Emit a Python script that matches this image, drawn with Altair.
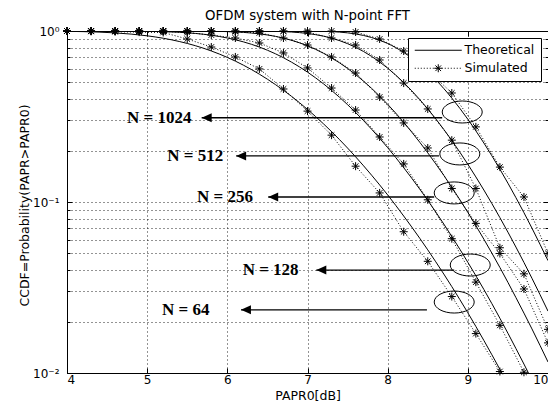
import altair as alt
import pandas as pd

# ---------------- data ----------------
N_values = [64, 128, 256, 512, 1024]

x_theory = [4.0, 4.2, 4.4, 4.6, 4.8, 5.0, 5.2, 5.4, 5.6, 5.8, 6.0, 6.2, 6.4, 6.6, 6.8,
            7.0, 7.2, 7.4, 7.6, 7.8, 8.0, 8.2, 8.4, 8.6, 8.8, 9.0, 9.2, 9.4, 9.6, 9.8, 10.0]

theory_64 = [0.9955, 0.9917, 0.9852, 0.9748, 0.9593, 0.9372, 0.9073, 0.8685, 0.8208, 0.7643,
             0.7006, 0.6314, 0.5590, 0.4861, 0.4151, 0.3478, 0.2863, 0.2315, 0.1838, 0.1434,
             0.1100, 0.0828, 0.0614, 0.0447, 0.0320, 0.0225, 0.0155, 0.0105, 0.0070, 0.00455, 0.0029]
theory_128 = [1.0, 0.9999, 0.9998, 0.9994, 0.9984, 0.9961, 0.9914, 0.9827, 0.9679, 0.9444,
              0.9104, 0.8641, 0.8055, 0.7359, 0.6579, 0.5747, 0.4907, 0.4094, 0.3339, 0.2663,
              0.2079, 0.1588, 0.1190, 0.0874, 0.0629, 0.0444, 0.0308, 0.0209, 0.0139, 0.0091, 0.0058]
theory_256 = [1.0, 1.0, 1.0, 1.0, 1.0, 1.0, 0.9999, 0.9997, 0.9990, 0.9969,
              0.9920, 0.9815, 0.9622, 0.9303, 0.8830, 0.8192, 0.7406, 0.6512, 0.5562, 0.4617,
              0.3726, 0.2924, 0.2237, 0.1671, 0.1219, 0.0869, 0.0606, 0.0414, 0.0276, 0.0181, 0.0116]
theory_512 = [1.0, 1.0, 1.0, 1.0, 1.0, 1.0, 1.0, 1.0, 1.0, 1.0,
              0.9999, 0.9997, 0.9986, 0.9951, 0.9863, 0.9673, 0.9328, 0.8783, 0.8031, 0.7102,
              0.6064, 0.4993, 0.3974, 0.3063, 0.2289, 0.1662, 0.1175, 0.0810, 0.0545, 0.0358, 0.0230]
theory_1024 = [1.0, 1.0, 1.0, 1.0, 1.0, 1.0, 1.0, 1.0, 1.0, 1.0,
               1.0, 1.0, 1.0, 1.0, 0.9998, 0.9989, 0.9955, 0.9852, 0.9612, 0.9160,
               0.8451, 0.7493, 0.6370, 0.5188, 0.4054, 0.3048, 0.2213, 0.1555, 0.1060, 0.0703, 0.0454]

x_sim = [4.0, 4.3, 4.6, 4.9, 5.2, 5.5, 5.8, 6.1, 6.4, 6.7, 7.0,
         7.3, 7.6, 7.9, 8.2, 8.5, 8.8, 9.1, 9.4, 9.7, 10.0]

sim_64 = [1.0, 0.995, 0.99, 0.985, 0.98, 0.898, 0.806, 0.705, 0.60, 0.458, 0.34,
          0.246, 0.162, 0.113, 0.067, 0.045, 0.028, 0.017, 0.0102, 0.0055, 0.003]
sim_128 = [1.0, 1.0, 1.0, 1.0, 0.995, 0.98, 0.947, 0.91, 0.851, 0.744, 0.608,
           0.464, 0.345, 0.24, 0.167, 0.103, 0.061, 0.034, 0.019, 0.0101, 0.005]
sim_256 = [1.0, 1.0, 1.0, 1.0, 1.0, 1.0, 0.998, 0.99, 0.975, 0.91, 0.828,
           0.705, 0.568, 0.411, 0.29, 0.207, 0.12, 0.075, 0.05, 0.031, 0.015]
sim_512 = [1.0, 1.0, 1.0, 1.0, 1.0, 1.0, 1.0, 1.0, 1.0, 0.998, 0.985,
           0.91, 0.828, 0.677, 0.496, 0.35, 0.23, 0.12, 0.054, 0.038, 0.018]
sim_1024 = [1.0, 1.0, 1.0, 1.0, 1.0, 1.0, 1.0, 1.0, 1.0, 1.0, 1.0,
            1.0, 0.987, 0.898, 0.764, 0.59, 0.434, 0.275, 0.16, 0.107, 0.05]

# annotations (data coordinates)
ann_label = ["N = 1024", "N = 512", "N = 256", "N = 128", "N = 64"]
ann_text_x = [5.15, 5.60, 5.97, 6.54, 5.48]
ann_y = [0.311, 0.186, 0.107, 0.0400, 0.0234]
ann_tip_x = [5.68, 6.11, 6.51, 7.11, 6.17]
ann_end_x = [8.68, 8.64, 8.58, 8.83, 8.49]
ell_x = [8.93, 8.90, 8.83, 9.03, 8.83]
ell_y = [0.336, 0.191, 0.113, 0.0428, 0.026]

legend_items = ["Theoretical", "Simulated"]
x_ticks = [4, 5, 6, 7, 8, 9, 10]
y_major = [0.01, 0.1, 1.0]
y_ticks = [0.01, 0.02, 0.03, 0.04, 0.05, 0.06, 0.07, 0.08, 0.09,
           0.1, 0.2, 0.3, 0.4, 0.5, 0.6, 0.7, 0.8, 0.9, 1.0]

# ---------------- tables ----------------
theory_lists = [theory_64, theory_128, theory_256, theory_512, theory_1024]
sim_lists = [sim_64, sim_128, sim_256, sim_512, sim_1024]
theory_df = pd.DataFrame([{"x": x, "p": p, "N": n}
                          for n, vals in zip(N_values, theory_lists)
                          for x, p in zip(x_theory, vals)])
sim_df = pd.DataFrame([{"x": x, "p": p, "N": n}
                       for n, vals in zip(N_values, sim_lists)
                       for x, p in zip(x_sim, vals)])
ann_df = pd.DataFrame({"label": ann_label, "tx": ann_text_x, "ay": ann_y,
                       "tip": ann_tip_x, "end": ann_end_x, "ex": ell_x, "ey": ell_y})
leg_df = pd.DataFrame({"kind": legend_items, "x": [4.0, 4.0], "p": [1.0, 1.0]})
anchor_df = pd.DataFrame({"x": [4.0], "p": [1.0]})

# ---------------- styling ----------------
W, H = 481, 342
FONT = "DejaVu Sans"
STAR = "M -1 0 L 1 0 M 0 -1 L 0 1 M -0.7 -0.7 L 0.7 0.7 M -0.7 0.7 L 0.7 -0.7"
ARROW = "M 0 0 L 2 -0.9 L 2 0.9 Z"
ELLIPSE = ("M -1 0 C -1 -0.3038 -0.5523 -0.55 0 -0.55 C 0.5523 -0.55 1 -0.3038 1 0 "
           "C 1 0.3038 0.5523 0.55 0 0.55 C -0.5523 0.55 -1 0.3038 -1 0 Z")
# legend symbols (unit = 5 px, symbol centre 5.5 px from the column start)
LEG_LINE = "M -1.1 0 L 8.3 0"
segs = []
t = -1.1
while t < 8.2:
    segs.append(f"M {t:.2f} 0 L {t + 0.2:.2f} 0")
    t += 0.6
LEG_SIM = " ".join(segs) + (" M 2.8 0 L 4.4 0 M 3.6 -0.8 L 3.6 0.8"
                            " M 3.04 -0.56 L 4.16 0.56 M 3.04 0.56 L 4.16 -0.56")

xscale = alt.Scale(domain=[4, 10], nice=False, zero=False)
yscale = alt.Scale(type="log", domain=[0.01, 1], nice=False)

xaxis = alt.Axis(values=x_ticks, title="PAPR0[dB]", orient="bottom", grid=True,
                 gridDash=[1, 3], gridColor="black", gridOpacity=0.85, ticks=False,
                 domain=False, labelFont=FONT, labelFontSize=12, labelColor="black",
                 labelPadding=1, titleFont=FONT, titleFontSize=12.5,
                 titleFontWeight="normal", titleColor="black", titlePadding=4,
                 labelOverlap=False)
label_expr = ("datum.value > 0.99 ? '10⁰' : (datum.value > 0.099 && datum.value < 0.101) ? '10⁻¹'"
              " : (datum.value < 0.0101 ? '10⁻²' : '')")
yaxis = alt.Axis(values=y_ticks, title="CCDF=Probability(PAPR>PAPR0)", orient="left",
                 grid=True, gridDash=[1, 3], gridColor="black", gridOpacity=0.85,
                 ticks=False, domain=False, labelExpr=label_expr, labelFont=FONT,
                 labelFontSize=12, labelColor="black", labelPadding=8, labelOverlap=False,
                 titleFont=FONT, titleFontSize=12.5, titleFontWeight="normal",
                 titleColor="black", titleX=-36, titleY=174)


def X(field, axis=None):
    return alt.X(f"{field}:Q", scale=xscale, axis=axis)


def Y(field, axis=None):
    return alt.Y(f"{field}:Q", scale=yscale, axis=axis)


def tick_axis(orient, values, offset, size):
    return alt.Axis(orient=orient, values=values, offset=offset, ticks=True,
                    tickSize=size, tickColor="black", tickWidth=1, labels=False,
                    domain=False, grid=False, title=None)


theory_lines = alt.Chart(theory_df).mark_line(
    color="black", strokeWidth=1, clip=True, interpolate="monotone"
).encode(x=X("x", xaxis), y=Y("p", yaxis), detail="N:N")

sim_lines = alt.Chart(sim_df).mark_line(
    color="black", strokeWidth=1, strokeDash=[1, 2], clip=True
).encode(x=X("x"), y=Y("p"), detail="N:N")

sim_points = alt.Chart(sim_df).transform_filter(
    alt.datum.p >= 0.0099
).mark_point(shape=STAR, filled=False, size=64, color="black", strokeWidth=1, opacity=1
).encode(x=X("x"), y=Y("p"))

arrows = alt.Chart(ann_df).mark_rule(color="black", strokeWidth=1.3).encode(
    x=X("tip"), x2="end:Q", y=Y("ay"))
heads = alt.Chart(ann_df).mark_point(shape=ARROW, filled=True, size=100, color="black",
                                     opacity=1).encode(x=X("tip"), y=Y("ay"))
ellipses = alt.Chart(ann_df).mark_point(shape=ELLIPSE, filled=False, size=1600,
                                        color="black", strokeWidth=1, opacity=1
                                        ).encode(x=X("ex"), y=Y("ey"))
labels = alt.Chart(ann_df).mark_text(font="Liberation Serif", fontWeight="bold",
                                     fontSize=17, color="black", align="center",
                                     baseline="middle").encode(
    x=X("tx"), y=Y("ay"), text="label:N")

# inward MATLAB-style ticks on all four sides
ticks_a = alt.Chart(anchor_df).mark_point(opacity=0).encode(
    x=X("x", tick_axis("top", x_ticks, -H, 5)), y=Y("p", tick_axis("right", y_major, -W, 5)))
ticks_b = alt.Chart(anchor_df).mark_point(opacity=0).encode(
    x=X("x", tick_axis("bottom", x_ticks, -H, 5)), y=Y("p", tick_axis("left", y_major, -W, 5)))
ticks_c = alt.Chart(anchor_df).mark_point(opacity=0).encode(
    x=X("x"), y=Y("p", tick_axis("right", y_ticks, -W, 3)))
ticks_d = alt.Chart(anchor_df).mark_point(opacity=0).encode(
    x=X("x"), y=Y("p", tick_axis("left", y_ticks, -W, 3)))

legend_layer = alt.Chart(leg_df).mark_point(opacity=0, filled=False, color="black").encode(
    x=X("x"), y=Y("p"),
    shape=alt.Shape("kind:N", scale=alt.Scale(domain=legend_items, range=[LEG_LINE, LEG_SIM]),
                    legend=alt.Legend(title=None, orient="top-right", offset=7,
                                      fillColor="white", strokeColor="black", padding=6,
                                      symbolSize=100, symbolStrokeColor="black",
                                      symbolFillColor="transparent", symbolStrokeWidth=1,
                                      symbolOpacity=1, labelFont=FONT, labelFontSize=12.5,
                                      labelColor="black", labelOffset=38, rowPadding=5,
                                      cornerRadius=0)))

chart = alt.layer(theory_lines, sim_lines, sim_points, arrows, heads, ellipses, labels,
                  ticks_a, ticks_b, ticks_c, ticks_d, legend_layer).resolve_axis(
    x="independent", y="independent"
).properties(
    width=W, height=H,
    title=alt.TitleParams("OFDM system with N-point FFT", font=FONT, fontSize=13.3,
                          fontWeight="normal", color="black", anchor="middle", offset=3),
    autosize=alt.AutoSizeParams(type="none"),
    padding={"left": 59, "top": 23, "right": 0, "bottom": 29},
    background="white",
).configure_view(stroke="black", strokeWidth=1)

chart.save("out.html", embed_options={"renderer": "svg", "actions": False})
